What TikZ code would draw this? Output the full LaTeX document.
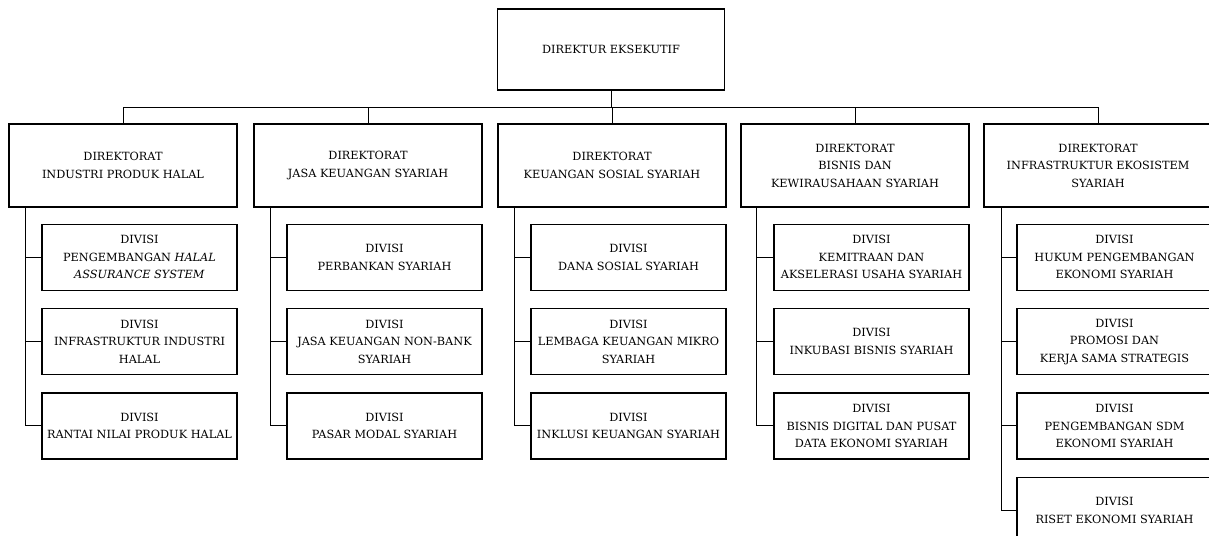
\documentclass[tikz,border=0pt]{standalone}
\usepackage{fontspec}
\setmainfont{DejaVu Serif}
\usepackage{tikz}
\usetikzlibrary{positioning}

\begin{document}
\begin{tikzpicture}[x=1pt,y=-1pt,line width=1pt,
  every node/.style={font=\fontsize{11.3}{17.5}\selectfont,align=center},
  topbox/.style={draw,line width=1.3pt,minimum width=227pt,minimum height=81pt},
  dirbox/.style={draw,line width=1.3pt,minimum width=228pt,minimum height=83pt},
  divbox/.style={draw,line width=1.3pt,minimum width=195pt,minimum height=66pt,inner xsep=1pt},
  node distance=17pt]
\useasboundingbox (0,0) rectangle (1209,535);
% executive director
\node[topbox] (dir) at (611,49.5) {DIREKTUR EKSEKUTIF};
% directorates
\node[dirbox] (d1) at (123,165.5) {DIREKTORAT\\INDUSTRI PRODUK HALAL};
\node[dirbox] (d2) at (368,165.5) {DIREKTORAT\\JASA KEUANGAN SYARIAH};
\node[dirbox] (d3) at (612,165.5) {DIREKTORAT\\KEUANGAN SOSIAL SYARIAH};
\node[dirbox] (d4) at (855,165.5) {DIREKTORAT\\BISNIS DAN\\KEWIRAUSAHAAN SYARIAH};
\node[dirbox] (d5) at (1098,165.5) {DIREKTORAT\\INFRASTRUKTUR EKOSISTEM\\SYARIAH};
% bus from executive director
\draw (dir.south) -- ++(0,17) -| (d1.north);
\draw (dir.south) -- ++(0,17) -| (d2.north);
\draw (dir.south) -- ++(0,17) -| (d3.north);
\draw (dir.south) -- ++(0,17) -| (d4.north);
\draw (dir.south) -- ++(0,17) -| (d5.north);
% divisions, industri produk halal
\node[divbox,anchor=north east] (v1a) at ([yshift=-16pt]d1.south east) {DIVISI\\PENGEMBANGAN \textit{HALAL}\\\textit{ASSURANCE SYSTEM}};
\node[divbox,below=of v1a] (v1b) {DIVISI\\INFRASTRUKTUR INDUSTRI\\HALAL};
\node[divbox,below=of v1b] (v1c) {DIVISI\\RANTAI NILAI PRODUK HALAL};
% divisions, jasa keuangan syariah
\node[divbox,anchor=north east] (v2a) at ([yshift=-16pt]d2.south east) {DIVISI\\PERBANKAN SYARIAH};
\node[divbox,below=of v2a] (v2b) {DIVISI\\JASA KEUANGAN NON-BANK\\SYARIAH};
\node[divbox,below=of v2b] (v2c) {DIVISI\\PASAR MODAL SYARIAH};
% divisions, keuangan sosial syariah
\node[divbox,anchor=north east] (v3a) at ([yshift=-16pt]d3.south east) {DIVISI\\DANA SOSIAL SYARIAH};
\node[divbox,below=of v3a] (v3b) {DIVISI\\LEMBAGA KEUANGAN MIKRO\\SYARIAH};
\node[divbox,below=of v3b] (v3c) {DIVISI\\INKLUSI KEUANGAN SYARIAH};
% divisions, bisnis dan kewirausahaan syariah
\node[divbox,anchor=north east] (v4a) at ([yshift=-16pt]d4.south east) {DIVISI\\KEMITRAAN DAN\\AKSELERASI USAHA SYARIAH};
\node[divbox,below=of v4a] (v4b) {DIVISI\\INKUBASI BISNIS SYARIAH};
\node[divbox,below=of v4b] (v4c) {DIVISI\\BISNIS DIGITAL DAN PUSAT\\DATA EKONOMI SYARIAH};
% divisions, infrastruktur ekosistem syariah
\node[divbox,anchor=north east] (v5a) at ([yshift=-16pt]d5.south east) {DIVISI\\HUKUM PENGEMBANGAN\\EKONOMI SYARIAH};
\node[divbox,below=of v5a] (v5b) {DIVISI\\PROMOSI DAN\\KERJA SAMA STRATEGIS};
\node[divbox,below=of v5b] (v5c) {DIVISI\\PENGEMBANGAN SDM\\EKONOMI SYARIAH};
\node[divbox,below=of v5c] (v5d) {DIVISI\\RISET EKONOMI SYARIAH};
% trunks
\coordinate (t1) at ([xshift=17pt]d1.south west);
\coordinate (t2) at ([xshift=17pt]d2.south west);
\coordinate (t3) at ([xshift=17pt]d3.south west);
\coordinate (t4) at ([xshift=16pt]d4.south west);
\coordinate (t5) at ([xshift=18pt]d5.south west);
\draw (t1) |- (v1c.west);
\draw (t2) |- (v2c.west);
\draw (t3) |- (v3c.west);
\draw (t4) |- (v4c.west);
\draw (t5) |- (v5d.west);
% stubs
\draw (v1a.west) -- (v1a.west -| t1);
\draw (v1b.west) -- (v1b.west -| t1);
\draw (v2a.west) -- (v2a.west -| t2);
\draw (v2b.west) -- (v2b.west -| t2);
\draw (v3a.west) -- (v3a.west -| t3);
\draw (v3b.west) -- (v3b.west -| t3);
\draw (v4a.west) -- (v4a.west -| t4);
\draw (v4b.west) -- (v4b.west -| t4);
\draw (v5a.west) -- (v5a.west -| t5);
\draw (v5b.west) -- (v5b.west -| t5);
\draw (v5c.west) -- (v5c.west -| t5);
\end{tikzpicture}
\end{document}
